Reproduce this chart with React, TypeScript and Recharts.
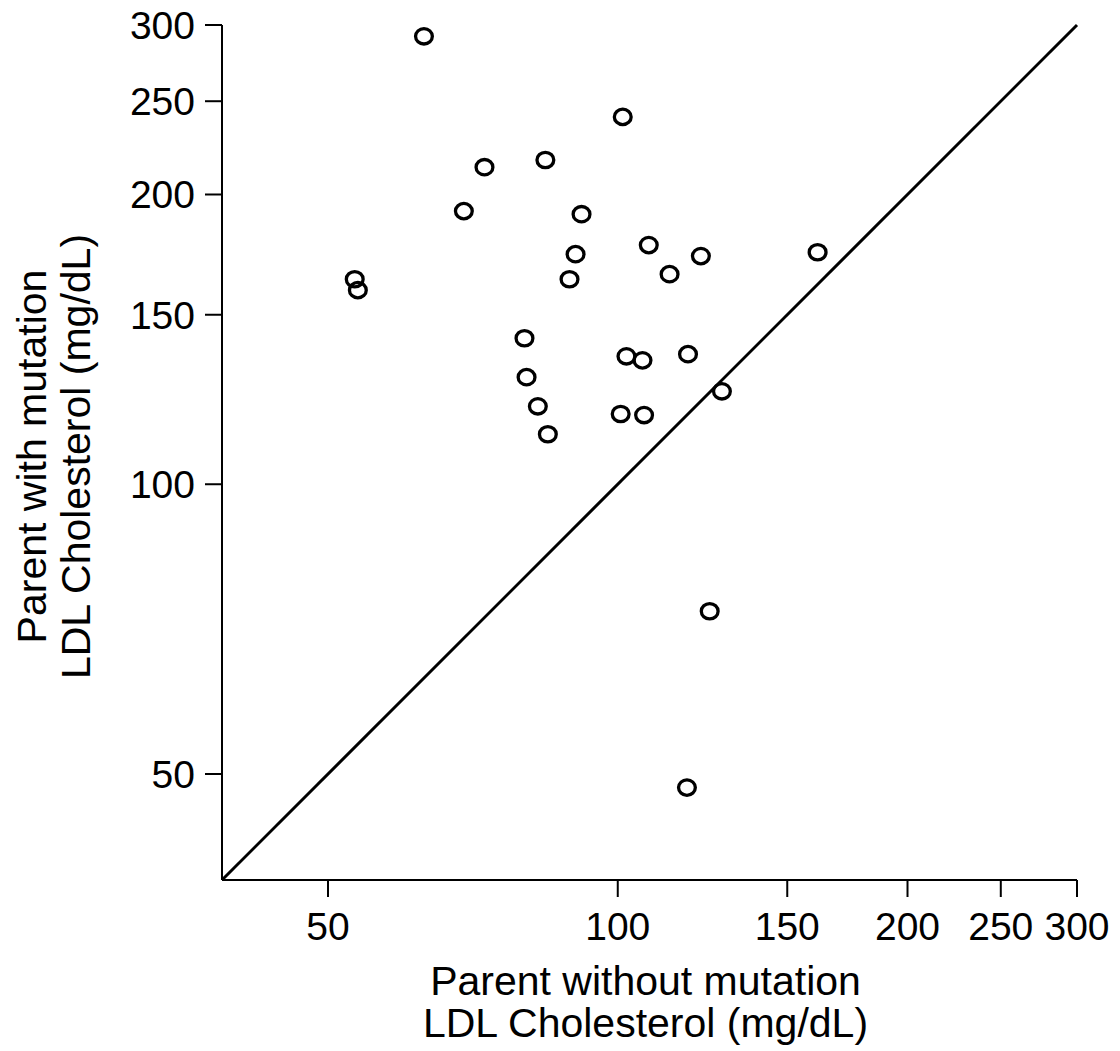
import React from "react";
import {
  ScatterChart,
  Scatter,
  XAxis,
  YAxis,
  ReferenceLine,
  Label,
} from "recharts";

// LDL cholesterol, parent without mutation (x) vs parent with mutation (y)
const withoutMutation = [
  62.9, 101.2, 72.7, 84.1, 69.2, 91.7, 90.4, 107.7, 122.0, 113.2, 89.1, 161.3,
  53.3, 53.7, 80.0, 80.4, 82.6, 84.6, 102.1, 106.1, 118.3, 100.7, 106.5, 128.3,
  124.6, 118.0,
];
const withMutation = [
  292, 240.8, 213.5, 217.2, 192.2, 190.8, 173.4, 177.2, 172.6, 165.3, 163.3,
  174.2, 163.3, 159.1, 141.8, 129.2, 120.5, 112.7, 135.8, 134.5, 136.5, 118.3,
  118.0, 124.9, 73.8, 48.4,
];
const axisTicks = [50, 100, 150, 200, 250, 300];
const axisDomain = [38.8, 300];

const points = withoutMutation.map((x, i) => ({ x, y: withMutation[i] }));

const FONT = "'Liberation Sans', Arial, sans-serif";

const OpenCircle = (props: any) => {
  const { cx, cy } = props;
  if (cx == null || cy == null) return null;
  return (
    <ellipse cx={cx} cy={cy} rx={8.4} ry={7.7} fill="none" stroke="#000" strokeWidth={3.3} />
  );
};

const XTitle = (props: any) => {
  const { viewBox } = props;
  const cx = viewBox.x + viewBox.width / 2 - 4;
  return (
    <text x={cx} textAnchor="middle" fontSize={41} fontFamily={FONT} fill="#000">
      <tspan x={cx} y={viewBox.y + 115}>Parent without mutation</tspan>
      <tspan x={cx} y={viewBox.y + 157}>LDL Cholesterol (mg/dL)</tspan>
    </text>
  );
};

const YTitle = (props: any) => {
  const { viewBox } = props;
  const cy = viewBox.y + viewBox.height / 2 + 4;
  const x1 = 38;
  const x2 = 82;
  return (
    <g fontSize={41} fontFamily={FONT} fill="#000">
      <text x={x1} y={cy} textAnchor="middle" transform={`rotate(-90, ${x1}, ${cy})`}>
        Parent with mutation
      </text>
      <text x={x2} y={cy} textAnchor="middle" transform={`rotate(-90, ${x2}, ${cy})`}>
        LDL Cholesterol (mg/dL)
      </text>
    </g>
  );
};

export default function App() {
  return (
    <div style={{ background: "#fff" }}>
      <ScatterChart
        width={1104}
        height={1043}
        margin={{ top: 17, right: 35, bottom: 111, left: 114 }}
        style={{ overflow: "visible" }}
      >
        <XAxis
          type="number"
          dataKey="x"
          scale="log"
          domain={axisDomain}
          allowDataOverflow
          ticks={axisTicks}
          interval={0}
          height={60}
          tickSize={17}
          tickMargin={15}
          axisLine={{ stroke: "#000", strokeWidth: 2 }}
          tickLine={{ stroke: "#000", strokeWidth: 2 }}
          tick={{ fill: "#000", fontSize: 39, fontFamily: FONT }}
        >
          <Label content={<XTitle />} />
        </XAxis>
        <YAxis
          type="number"
          dataKey="y"
          scale="log"
          domain={axisDomain}
          allowDataOverflow
          ticks={axisTicks}
          interval={0}
          width={100}
          tickSize={17}
          tickMargin={10}
          axisLine={{ stroke: "#000", strokeWidth: 2 }}
          tickLine={{ stroke: "#000", strokeWidth: 2 }}
          tick={{ fill: "#000", fontSize: 39, fontFamily: FONT }}
        >
          <Label content={<YTitle />} />
        </YAxis>
        <ReferenceLine
          segment={[
            { x: axisDomain[0], y: axisDomain[0] },
            { x: axisDomain[1], y: axisDomain[1] },
          ]}
          stroke="#000"
          strokeWidth={3}
          ifOverflow="visible"
        />
        <Scatter data={points} shape={<OpenCircle />} isAnimationActive={false} />
      </ScatterChart>
    </div>
  );
}
